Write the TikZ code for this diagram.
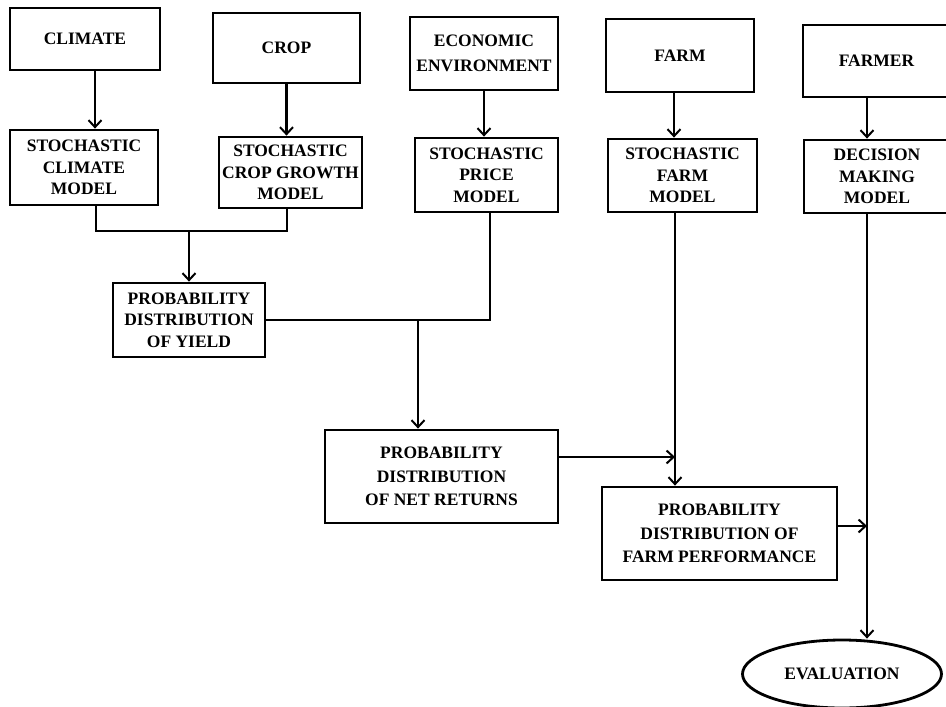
\documentclass[tikz,border=0pt]{standalone}
\usepackage{fontspec}
\setmainfont{Liberation Serif}
\usetikzlibrary{arrows.meta,shapes.geometric,calc}
\begin{document}
\begin{tikzpicture}[x=1pt,y=-1pt,
  every node/.style={font=\bfseries\fontsize{17.5}{21.5}\selectfont},
  box/.style={draw,line width=2.8pt,rectangle,inner sep=0pt,align=center},
  ln/.style={line width=2.8pt},
  arr/.style={line width=2.8pt,-{Straight Barb[length=7pt,width=13pt,line width=2pt]}}]
\useasboundingbox (0,0) rectangle (946,707);
\fill[white] (0,0) rectangle (946,707);
% top row
\node[box,minimum width=150pt,minimum height=62pt] (climate) at (85,39) {CLIMATE};
\node[box,minimum width=147pt,minimum height=70pt] (crop) at (286.5,48) {CROP};
\node[box,minimum width=148pt,minimum height=73pt] (econ) at (484,53.5) {ECONOMIC\\[3pt]ENVIRONMENT};
\node[box,minimum width=148pt,minimum height=73pt] (farm) at (680,55.5) {FARM};
\node[box,minimum width=147pt,minimum height=72pt] (farmer) at (876.5,61) {FARMER};
% second row
\node[box,minimum width=148pt,minimum height=75pt] (scm) at (84,167.5) {STOCHASTIC\\CLIMATE\\MODEL};
\node[box,minimum width=143pt,minimum height=71pt] (scgm) at (290.5,172.5) {STOCHASTIC\\CROP GROWTH\\MODEL};
\node[box,minimum width=143pt,minimum height=74pt] (spm) at (486.5,175) {STOCHASTIC\\PRICE\\MODEL};
\node[box,minimum width=149pt,minimum height=73pt] (sfm) at (682.5,175.5) {STOCHASTIC\\FARM\\MODEL};
\node[box,minimum width=146pt,minimum height=73pt] (dmm) at (877,176.5) {DECISION\\MAKING\\MODEL};
% lower
\node[box,minimum width=152pt,minimum height=74pt] (pdy) at (189,320) {PROBABILITY\\DISTRIBUTION\\OF YIELD};
\node[box,minimum width=233pt,minimum height=93pt] (nr) at (441.5,476.5) {PROBABILITY\\[2pt]DISTRIBUTION\\[2pt]OF NET RETURNS};
\node[box,minimum width=235pt,minimum height=93pt] (fp) at (719.5,533.5) {PROBABILITY\\[2pt]DISTRIBUTION OF\\[2pt]FARM PERFORMANCE};
\node[ellipse,draw,line width=2.8pt,inner sep=0pt,minimum width=199pt,minimum height=68pt] (eval) at (842,674) {EVALUATION};
% coordinates
\coordinate (j1) at (96,231);
\coordinate (j2) at (287,231);
\coordinate (j3) at (490,320);
\coordinate (fl) at ([xshift=-7.5pt]sfm.south);
\coordinate (dl) at ([xshift=-10pt]dmm.south);
% top to second row
\draw[arr] ([xshift=10pt]climate.south) -- ([xshift=10pt]climate.south |- scm.north);
\draw[arr] (crop.south) -- (crop.south |- scgm.north);
\draw[arr] (econ.south) -- (econ.south |- spm.north);
\draw[arr] ([xshift=-6pt]farm.south) -- ([xshift=-6pt]farm.south |- sfm.north);
\draw[arr] ([xshift=-9.5pt]farmer.south) -- ([xshift=-9.5pt]farmer.south |- dmm.north);
% merges
\draw[ln] (j1 |- scm.south) -- (j1) -- (j2) -- (j2 |- scgm.south);
\draw[arr] (pdy.north |- j1) -- (pdy.north);
\draw[ln] (pdy.east) -- (j3) -- (j3 |- spm.south);
\draw[arr] ([xshift=-23.5pt]nr.north |- j3) -- ([xshift=-23.5pt]nr.north);
\draw[arr] (fl) -- (fl |- fp.north);
\draw[arr] ([yshift=19.5pt]nr.east) -- ([yshift=19.5pt]nr.east -| fl);
\draw[arr] (dl) -- (dl |- eval.north);
\draw[arr] ([yshift=7.5pt]fp.east) -- ([yshift=7.5pt]fp.east -| dl);
\end{tikzpicture}
\end{document}
